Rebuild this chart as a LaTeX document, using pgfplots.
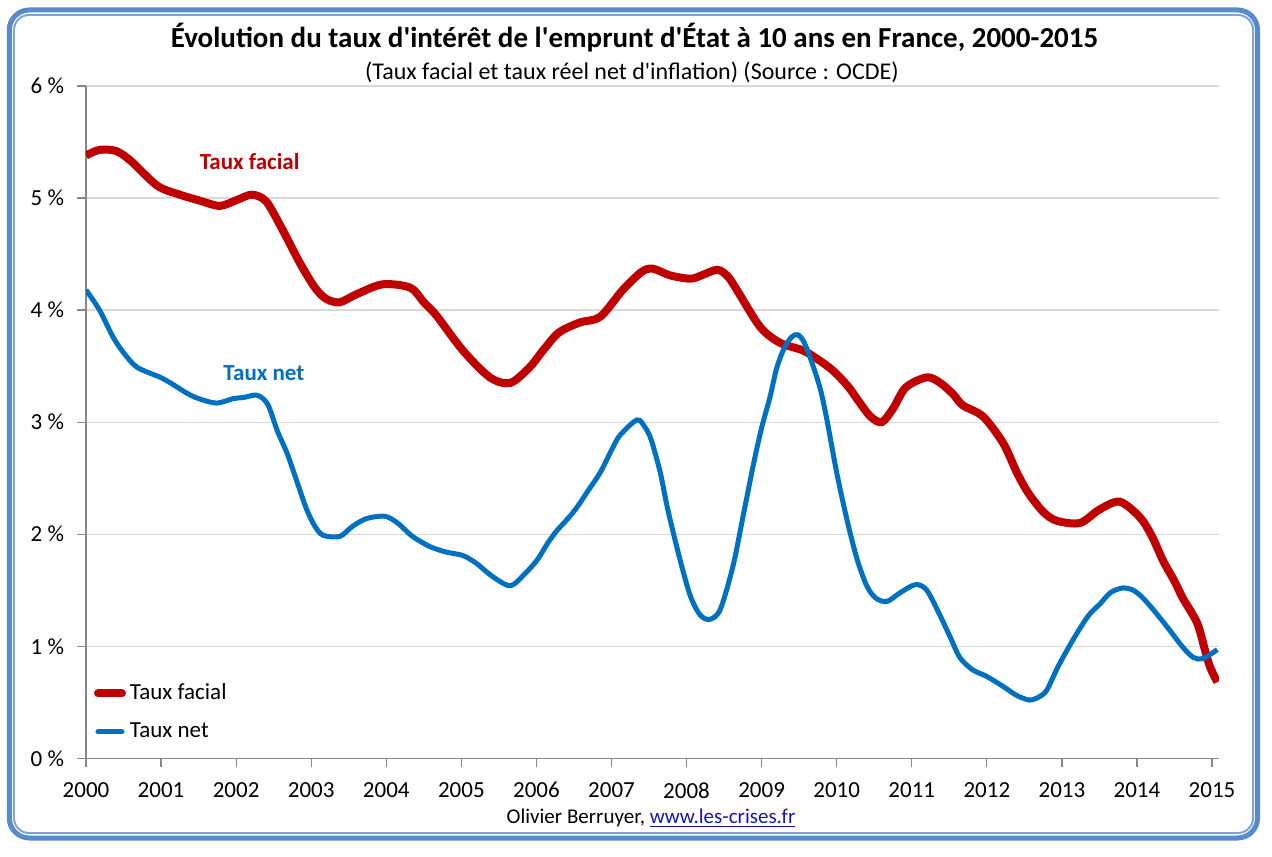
\documentclass[border=0pt]{standalone}
\usepackage{fontspec}
\setmainfont{Carlito}
\usepackage{pgfplots}
\pgfplotsset{compat=1.18}
\definecolor{facial}{RGB}{192,0,0}
\definecolor{net}{RGB}{0,112,192}
\definecolor{framebl}{RGB}{88,138,204}
\definecolor{framebl2}{RGB}{125,165,218}
\definecolor{gridgray}{RGB}{217,217,217}
\definecolor{axgray}{RGB}{134,134,134}
\definecolor{linkbl}{RGB}{20,20,190}
\newcommand\ap{\textquotesingle}

\begin{document}
\begin{tikzpicture}
\fill[white] (-43pt,-48.85pt) rectangle (593pt,379.15pt);
\begin{axis}[
  at={(0,0)}, anchor=south west,
  scale only axis,
  width=566.4pt, height=336.15pt,
  xmin=2000, xmax=2015.09, ymin=0, ymax=6,
  axis lines*=left,
  axis line style={axgray, line width=0.6pt},
  xtick={2000,2001,...,2015},
  xticklabels={2000,2001,2002,2003,2004,2005,2006,2007,2008,2009,2010,2011,2012,2013,2014,2015},
  ytick={0,1,...,6},
  yticklabels={0 \%,1 \%,2 \%,3 \%,4 \%,5 \%,6 \%},
  ymajorgrids, grid style={gridgray, line width=0.6pt},
  tick align=outside, major tick length=4.5pt,
  tick style={axgray, line width=0.6pt},
  ticklabel style={font=\fontsize{11.5}{13}\selectfont},
  xticklabel style={yshift=-4pt},
  yticklabel style={xshift=-3pt},
  legend style={at={(axis description cs:0.0014,0.0137)}, anchor=south west,
    draw=none, fill=none, font=\fontsize{11.5}{13}\selectfont, row sep=6pt},
  legend cell align=left,
  legend image code/.code={\draw[#1,line cap=round] (0pt,0pt) -- (12pt,0pt);},
]
\addplot[facial, line width=4pt, smooth] coordinates {
(2000.00,5.38) (2000.18,5.43) (2000.40,5.42) (2000.60,5.33) (2000.95,5.11)
(2001.25,5.03) (2001.50,4.98) (2001.78,4.93) (2002.00,4.98) (2002.21,5.03)
(2002.40,4.97) (2002.60,4.74) (2002.85,4.42) (2003.05,4.20) (2003.20,4.10)
(2003.38,4.07) (2003.60,4.14) (2003.95,4.23) (2004.32,4.20) (2004.50,4.07)
(2004.67,3.95) (2005.02,3.64) (2005.38,3.40) (2005.65,3.35) (2005.91,3.49)
(2006.10,3.65) (2006.30,3.80) (2006.58,3.89) (2006.85,3.94) (2007.15,4.18)
(2007.40,4.34) (2007.55,4.37) (2007.78,4.31) (2008.05,4.28) (2008.20,4.31)
(2008.41,4.36) (2008.55,4.30) (2008.67,4.18) (2008.98,3.85) (2009.24,3.71)
(2009.55,3.64) (2009.75,3.56) (2009.95,3.46) (2010.15,3.32) (2010.30,3.18)
(2010.45,3.05) (2010.60,3.00) (2010.75,3.12) (2010.92,3.31) (2011.20,3.40)
(2011.38,3.35) (2011.55,3.25) (2011.68,3.15) (2011.95,3.05) (2012.22,2.81)
(2012.40,2.55) (2012.55,2.37) (2012.75,2.20) (2012.93,2.12) (2013.24,2.10)
(2013.50,2.22) (2013.77,2.29) (2014.04,2.15) (2014.20,1.98) (2014.35,1.76)
(2014.50,1.58) (2014.61,1.43) (2014.80,1.21) (2014.90,0.98) (2014.97,0.82)
(2015.07,0.68)
};
\addlegendentry{Taux facial}
\addplot[net, line width=2.5pt, smooth] coordinates {
(2000.00,4.18) (2000.18,4.00) (2000.36,3.76) (2000.50,3.62) (2000.68,3.49)
(2000.99,3.40) (2001.15,3.34) (2001.34,3.26) (2001.50,3.21) (2001.74,3.17)
(2001.96,3.21) (2002.10,3.22) (2002.28,3.24) (2002.42,3.16) (2002.55,2.92)
(2002.68,2.72) (2002.82,2.45) (2002.94,2.22) (2003.05,2.07) (2003.16,1.99)
(2003.38,1.98) (2003.55,2.07) (2003.74,2.14) (2003.98,2.16) (2004.15,2.10)
(2004.35,1.98) (2004.58,1.89) (2004.80,1.84) (2005.02,1.81) (2005.20,1.74)
(2005.40,1.63) (2005.65,1.54) (2005.85,1.65) (2006.01,1.77) (2006.15,1.92)
(2006.27,2.03) (2006.42,2.14) (2006.54,2.24) (2006.70,2.40) (2006.85,2.55)
(2007.00,2.75) (2007.11,2.88) (2007.34,3.02) (2007.45,2.95) (2007.53,2.84)
(2007.65,2.55) (2007.75,2.22) (2007.91,1.78) (2008.05,1.45) (2008.18,1.28)
(2008.31,1.24) (2008.45,1.33) (2008.62,1.72) (2008.75,2.15) (2008.89,2.62)
(2009.00,2.95) (2009.11,3.22) (2009.20,3.48) (2009.30,3.66) (2009.40,3.76)
(2009.48,3.78) (2009.56,3.72) (2009.66,3.55) (2009.78,3.30) (2009.87,3.02)
(2010.00,2.55) (2010.14,2.12) (2010.27,1.78) (2010.40,1.54) (2010.52,1.43)
(2010.67,1.40) (2010.85,1.48) (2011.05,1.55) (2011.20,1.50) (2011.38,1.27)
(2011.52,1.07) (2011.64,0.90) (2011.81,0.79) (2012.00,0.73) (2012.22,0.64)
(2012.40,0.56) (2012.57,0.52) (2012.70,0.55) (2012.80,0.61) (2012.95,0.82)
(2013.15,1.06) (2013.35,1.27) (2013.51,1.38) (2013.65,1.48) (2013.81,1.52)
(2013.95,1.50) (2014.08,1.43) (2014.25,1.30) (2014.44,1.14) (2014.60,1.00)
(2014.75,0.90) (2014.88,0.89) (2015.07,0.97)
};
\addlegendentry{Taux net}
\node[font=\bfseries\fontsize{11.5}{13}\selectfont, text=facial] at (axis cs:2002.18,5.33) {Taux facial};
\node[font=\bfseries\fontsize{11.5}{13}\selectfont, text=net] at (axis cs:2002.37,3.44) {Taux net};
\end{axis}
% titles and footer
\node[font=\bfseries\fontsize{14.5}{17}\selectfont] at (274.25pt,360.15pt)
  {Évolution du taux d\ap intérêt de l\ap emprunt d\ap État à 10 ans en France, 2000-2015};
\node[font=\fontsize{12}{14}\selectfont] at (273pt,343.15pt)
  {(Taux facial et taux réel net d\ap inflation) (Source : OCDE)};
\node[font=\fontsize{10.5}{12}\selectfont] at (282.5pt,-29.85pt)
  {Olivier Berruyer,\ \textcolor{linkbl}{\underline{www.les-crises.fr}}};
% frame
\draw[framebl, line width=2.5pt, rounded corners=10pt] (-38.35pt,-39.85pt) rectangle (585.75pt,374.15pt);
\draw[framebl2, line width=1pt, rounded corners=7.5pt] (-36pt,-37.35pt) rectangle (583.5pt,371.65pt);
\pgfresetboundingbox
\path[use as bounding box] (-43pt,-48.85pt) rectangle (593pt,379.15pt);
\end{tikzpicture}
\end{document}
